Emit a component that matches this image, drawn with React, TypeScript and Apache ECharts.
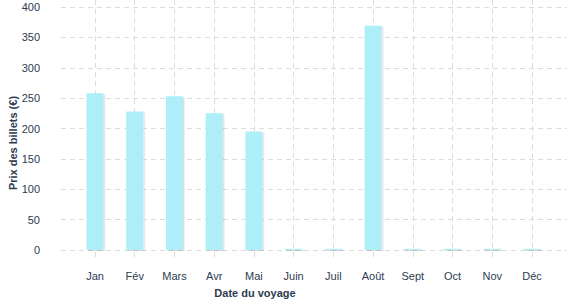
import React, { useEffect, useRef } from "react";
import * as echarts from "echarts";

const months = ["Jan", "Fév", "Mars", "Avr", "Mai", "Juin", "Juil", "Août", "Sept", "Oct", "Nov", "Déc"];
const prices = [258, 228, 253, 225, 195, 2, 2, 369, 2, 2, 2, 2];
const yTicks = { min: 0, max: 400, interval: 50 };

const textColor = "#2e3b52";
const gridColor = "#dcdcdc";
const barColor = "#adeef8";

export default function App() {
  const ref = useRef<HTMLDivElement>(null);
  useEffect(() => {
    if (!ref.current) return;
    const chart = echarts.init(ref.current, undefined, { renderer: "svg" });
    // pixel scale: 0 -> y=250, 400 -> y=7
    const pxPerUnit = 243 / 400;
    const topVal = 400 + 7 / pxPerUnit;
    const botVal = -10 / pxPerUnit;
    chart.setOption({
      animation: false,
      textStyle: { fontFamily: "Liberation Sans, Arial, sans-serif" },
      grid: [
        { left: 61, right: 10, top: 7, bottom: 50 },
        { left: 95, right: 45, top: 0, bottom: 40 },
      ],
      xAxis: [
        { type: "value", gridIndex: 0, show: false, min: 0, max: 1 },
        {
          type: "category",
          gridIndex: 1,
          data: months,
          boundaryGap: false,
          axisLine: { show: false },
          axisTick: { show: false },
          axisLabel: { color: textColor, fontSize: 11, margin: 10 },
          splitLine: { show: true, lineStyle: { color: gridColor, type: [5, 4], width: 1 } },
        },
      ],
      yAxis: [
        {
          type: "value",
          gridIndex: 0,
          min: yTicks.min,
          max: yTicks.max,
          interval: yTicks.interval,
          axisLine: { show: false },
          axisTick: { show: false },
          axisLabel: { color: textColor, fontSize: 11, margin: 21 },
          splitLine: { show: true, lineStyle: { color: gridColor, type: [5, 4], width: 1 } },
        },
        {
          type: "value",
          gridIndex: 1,
          min: botVal,
          max: topVal,
          show: false,
          splitLine: { show: false },
        },
      ],
      series: [
        {
          type: "bar",
          xAxisIndex: 1,
          yAxisIndex: 1,
          data: prices,
          barWidth: 17,
          clip: false,
          itemStyle: {
            color: barColor,
            shadowColor: "rgba(0,0,0,0.13)",
            shadowOffsetX: 1.5,
            shadowOffsetY: 1,
            shadowBlur: 0,
          },
        },
      ],
      graphic: [
        {
          type: "text",
          x: 255,
          y: 293,
          style: {
            text: "Date du voyage",
            fill: textColor,
            font: "bold 11px Liberation Sans, Arial, sans-serif",
            align: "center",
            verticalAlign: "middle",
          },
        },
        {
          type: "text",
          x: 13,
          y: 143,
          rotation: Math.PI / 2,
          style: {
            text: "Prix des billets (€)",
            fill: textColor,
            font: "bold 11px Liberation Sans, Arial, sans-serif",
            align: "center",
            verticalAlign: "middle",
          },
        },
      ],
    });
    return () => chart.dispose();
  }, []);
  return <div ref={ref} style={{ width: 577, height: 300, position: "absolute", left: 0, top: 0 }} />;
}
